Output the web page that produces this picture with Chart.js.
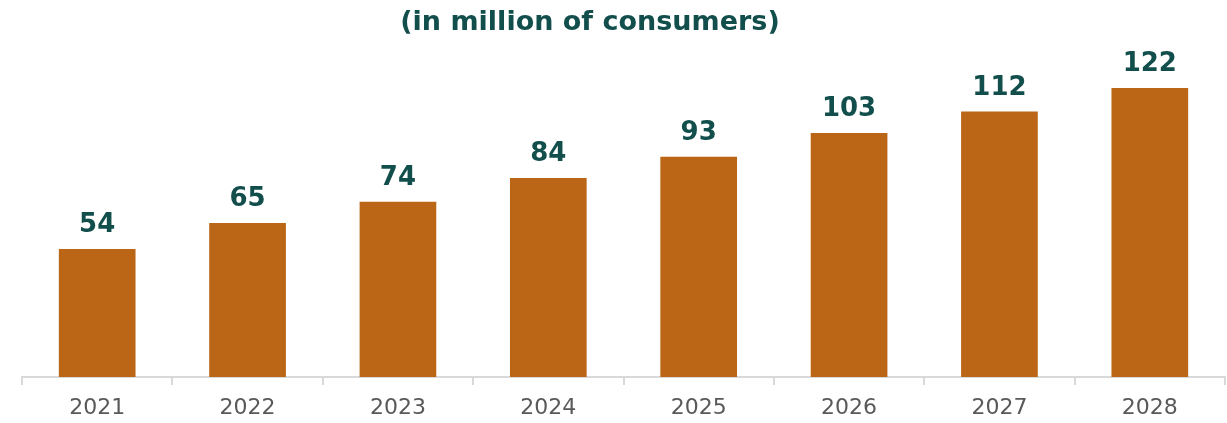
<!DOCTYPE html>
<html>
<head>
<meta charset="utf-8">
<script src="https://cdn.jsdelivr.net/npm/chart.js@4/dist/chart.umd.min.js"></script>
<style>
  body { margin: 0; background: #fff; }
  #wrap { width: 1227px; height: 423px; }
</style>
</head>
<body>
<div id="wrap"><canvas id="consumers"></canvas></div>
<script>
var years = ['2021', '2022', '2023', '2024', '2025', '2026', '2027', '2028'];
var consumers = [54, 65, 74, 84, 93, 103, 112, 122];
var titleText = '(in million of consumers)';

var teal = '#124e4b';
var barColor = '#bb6616';

// values above bars, and the title a bit left of centre like the original
var labelPlugin = {
    id: 'barLabels',
    afterDatasetsDraw: function (chart) {
        var ctx = chart.ctx;
        ctx.save();
        ctx.fillStyle = teal;
        ctx.textAlign = 'center';
        ctx.textBaseline = 'alphabetic';
        ctx.font = 'bold 26px "DejaVu Sans"';
        chart.getDatasetMeta(0).data.forEach(function (bar, i) {
            ctx.fillText(consumers[i], bar.x, bar.y - 17);
        });
        ctx.font = 'bold 27px "DejaVu Sans"';
        ctx.textBaseline = 'middle';
        ctx.fillText(titleText, 590, 23);
        ctx.restore();
    }
};

var ctx = document.getElementById('consumers').getContext('2d');
var chart = new Chart(ctx, {
    type: 'bar',
    data: {
        labels: years,
        datasets: [{
            data: consumers,
            backgroundColor: barColor,
            categoryPercentage: 1,
            barPercentage: 0.51
        }]
    },
    options: {
        responsive: true,
        maintainAspectRatio: false,
        animation: false,
        layout: { padding: { top: 50, left: 22, right: 2, bottom: -8 } },
        plugins: {
            legend: { display: false },
            tooltip: { enabled: false }
        },
        scales: {
            x: {
                grid: {
                    drawOnChartArea: false,
                    color: '#d9d9d9',
                    lineWidth: 2,
                    tickLength: 8
                },
                border: { color: '#d9d9d9', width: 2 },
                ticks: {
                    color: '#595959',
                    font: { family: 'DejaVu Sans', size: 22, lineHeight: 1 },
                    padding: 12
                }
            },
            y: {
                display: false,
                min: 0,
                max: 138
            }
        }
    },
    plugins: [labelPlugin]
});
</script>
</body>
</html>
